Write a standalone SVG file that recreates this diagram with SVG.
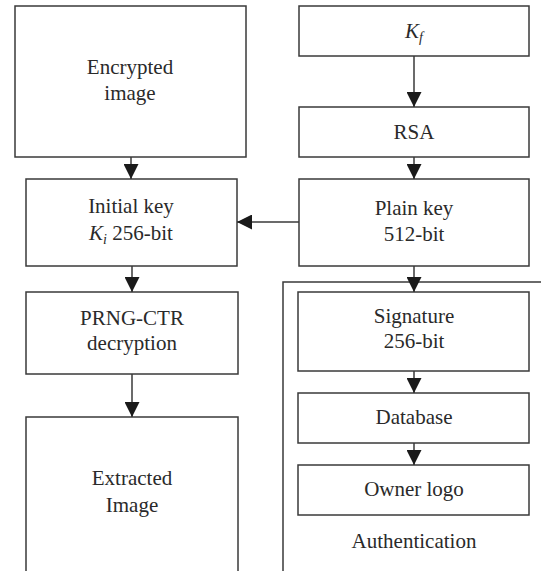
<svg xmlns="http://www.w3.org/2000/svg" width="541" height="571" viewBox="0 0 541 571">
<style>
.box{fill:#fff;stroke:#3a3a3a;stroke-width:1.5}
.t{font-family:"Liberation Serif","Times New Roman",serif;font-size:21px;fill:#2a2a2a;text-anchor:middle}
.c{stroke:#3a3a3a;stroke-width:1.5;fill:none}
</style>
<defs>
<marker id="ah" markerUnits="userSpaceOnUse" markerWidth="15" markerHeight="15" refX="14" refY="7" orient="auto" viewBox="0 0 14 14">
<path d="M0,0 L14,7 L0,14 z" fill="#1a1a1a"/>
</marker>
</defs>
<rect width="541" height="571" fill="#fff"/>
<g id="authentication">
<rect class="box" x="283" y="282" width="280" height="310"/>
<text class="t" x="414" y="548">Authentication</text>
</g>
<g id="encrypted-image">
<rect class="box" x="15" y="6" width="231" height="151"/>
<text class="t" x="130" y="74">Encrypted</text>
<text class="t" x="130" y="100">image</text>
</g>
<g id="initial-key">
<rect class="box" x="26" y="179" width="211" height="87"/>
<text class="t" x="131" y="213">Initial key</text>
<text class="t" x="131" y="240"><tspan font-style="italic">K</tspan><tspan font-style="italic" font-size="14" dy="4">i</tspan><tspan dy="-4"> 256-bit</tspan></text>
</g>
<g id="prng">
<rect class="box" x="26" y="292" width="212" height="82"/>
<text class="t" x="132" y="325">PRNG-CTR</text>
<text class="t" x="132" y="350">decryption</text>
</g>
<g id="extracted-image">
<rect class="box" x="26" y="417" width="212" height="180"/>
<text class="t" x="132" y="485">Extracted</text>
<text class="t" x="132" y="512">Image</text>
</g>
<g id="kf">
<rect class="box" x="299" y="6" width="230" height="50"/>
<text class="t" x="414" y="38"><tspan font-style="italic">K</tspan><tspan font-style="italic" font-size="14" dy="4">f</tspan></text>
</g>
<g id="rsa">
<rect class="box" x="299" y="107" width="230" height="50"/>
<text class="t" x="414" y="139">RSA</text>
</g>
<g id="plain-key">
<rect class="box" x="299" y="179" width="230" height="87"/>
<text class="t" x="414" y="215">Plain key</text>
<text class="t" x="414" y="241">512-bit</text>
</g>
<g id="signature">
<rect class="box" x="298" y="292" width="231" height="79"/>
<text class="t" x="414" y="323">Signature</text>
<text class="t" x="414" y="348">256-bit</text>
</g>
<g id="database">
<rect class="box" x="298" y="393" width="231" height="50"/>
<text class="t" x="414" y="424">Database</text>
</g>
<g id="owner-logo">
<rect class="box" x="298" y="465" width="231" height="50"/>
<text class="t" x="414" y="496">Owner logo</text>
</g>
<g id="connectors">
<line class="c" x1="131" y1="157" x2="131" y2="179" marker-end="url(#ah)"/>
<line class="c" x1="132" y1="266" x2="132" y2="292" marker-end="url(#ah)"/>
<line class="c" x1="132" y1="374" x2="132" y2="417" marker-end="url(#ah)"/>
<line class="c" x1="414" y1="56" x2="414" y2="107" marker-end="url(#ah)"/>
<line class="c" x1="414" y1="157" x2="414" y2="179" marker-end="url(#ah)"/>
<line class="c" x1="414" y1="266" x2="414" y2="292" marker-end="url(#ah)"/>
<line class="c" x1="299" y1="222" x2="237" y2="222" marker-end="url(#ah)"/>
<line class="c" x1="414" y1="371" x2="414" y2="393" marker-end="url(#ah)"/>
<line class="c" x1="414" y1="443" x2="414" y2="465" marker-end="url(#ah)"/>
</g>
</svg>
